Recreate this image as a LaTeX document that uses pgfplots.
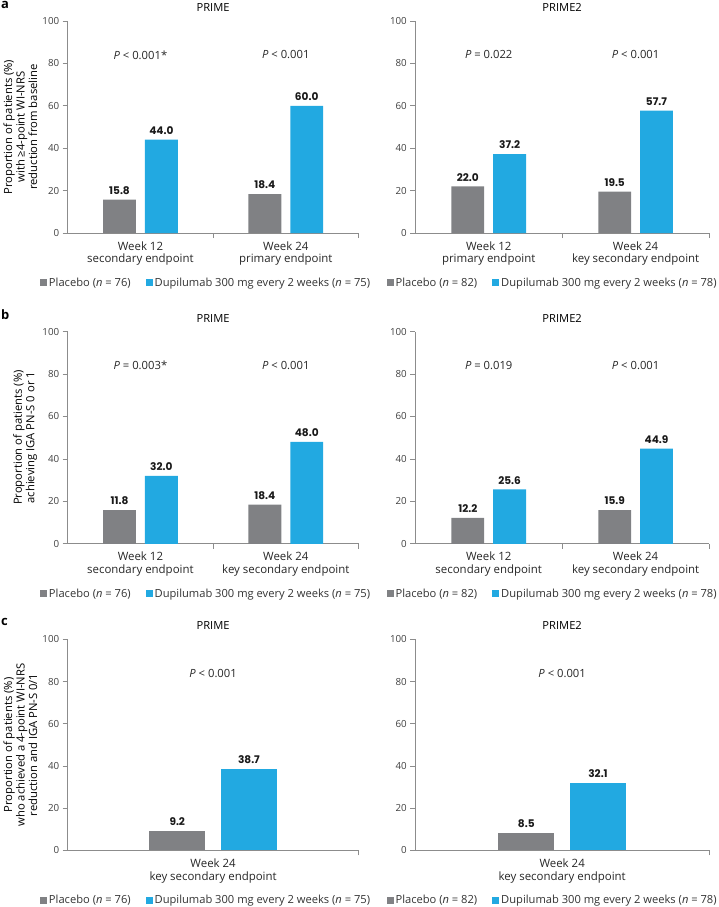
\documentclass[border=0pt]{standalone}
\usepackage{fontspec}
\setmainfont{Open Sans}
\newfontfamily\valfont{Poppins}
\usepackage{pgfplots}
\pgfplotsset{compat=1.18}
\definecolor{plac}{HTML}{808184}
\definecolor{dupi}{HTML}{22A9E1}
\definecolor{axgray}{HTML}{8C8C8C}
\tikzset{ptext/.style={font=\fontsize{11.3}{12}\selectfont, text=black!85, anchor=center}}
\pgfplotsset{
 panel/.style={
  scale only axis, height=213pt, anchor=south west,
  ymin=0, ymax=100, ytick={0,20,...,100},
  axis x line*=bottom, axis y line*=left,
  axis line style={axgray, line width=0.7pt, -},
  every tick/.style={axgray, line width=0.7pt},
  tick align=outside, major tick length=5pt,
  y tick label style={font=\fontsize{9.8}{10}\selectfont, text=black!75},
  /pgf/number format/assume math mode=true,
  title style={font=\fontsize{11.2}{12}\selectfont, at={(0.5,1)}, anchor=base, yshift=3.5pt},
  clip=false,
  xticklabels={},
  extra x tick style={major tick length=0pt, tick label style={font=\fontsize{11.5}{12.5}\selectfont, align=center, text=black!85, yshift=-5pt}},
  ylabel style={at={(axis description cs:-0.1045,0.5)}, anchor=south, align=center, inner sep=0pt, font=\fontsize{11.3}{12.5}\selectfont},
  legend style={draw=none, fill=none, inner sep=0pt, legend columns=2, font=\fontsize{11.2}{12}\selectfont, text=black!80, anchor=west, /tikz/every even column/.append style={column sep=13pt}},
  legend image code/.code={\fill[#1] (0pt,-3.5pt) rectangle (7pt,3.5pt);},
  nodes near coords, point meta=explicit symbolic,
  every node near coord/.append style={font=\valfont\bfseries\fontsize{10.6}{11}\selectfont, inner sep=0pt, anchor=south, yshift=5pt, text=black!90},
 },
 twocat/.style={xmin=-0.5, xmax=1.5, xtick={0.5,1.5}, extra x ticks={0,1}},
 onecat/.style={xmin=-1, xmax=1, xtick={1}, extra x ticks={0}},
 lpan/.style={width=292pt, legend style={at={(axis description cs:-0.0959,-0.2347)}}},
 rpan/.style={width=295pt, legend style={at={(axis description cs:-0.0983,-0.2347)}}},
 pbar/.style={ybar, fill=plac, draw=none, bar width=33pt, bar shift=-21pt, every node near coord/.append style={xshift=-21pt}},
 dbar/.style={ybar, fill=dupi, draw=none, bar width=33pt, bar shift=21pt, every node near coord/.append style={xshift=21pt}},
 pbarw/.style={ybar, fill=plac, draw=none, bar width=56pt, bar shift=-36pt, every node near coord/.append style={xshift=-36pt}},
 dbarw/.style={ybar, fill=dupi, draw=none, bar width=56pt, bar shift=36pt, every node near coord/.append style={xshift=36pt}},
}
\begin{document}
\begin{tikzpicture}
\path (0pt,0pt) rectangle (715pt,-907pt);
% ---------- a ----------
\node[anchor=base west, inner sep=0pt, font=\bfseries\fontsize{13}{13}\selectfont] at (1pt,-8.3pt) {a};
\begin{axis}[panel, twocat, lpan, at={(68pt,-234pt)}, title={PRIME},
  extra x tick labels={Week 12\\secondary endpoint, Week 24\\primary endpoint},
  ylabel={Proportion of patients (\%)\\with ≥4-point WI-NRS\\reduction from baseline}]
\addplot[pbar] coordinates {(0,15.8) [15.8] (1,18.4) [18.4]};
\addplot[dbar] coordinates {(0,44.0) [44.0] (1,60.0) [60.0]};
\node[ptext] at (axis cs:0,84) {\textit{P} < 0.001*};
\node[ptext] at (axis cs:1,84) {\textit{P} < 0.001};
\legend{Placebo (\textit{n} = 76), Dupilumab 300 mg every 2 weeks (\textit{n} = 75)}
\end{axis}
\begin{axis}[panel, twocat, rpan, at={(417pt,-234pt)}, title={PRIME2},
  extra x tick labels={Week 12\\primary endpoint, Week 24\\key secondary endpoint}]
\addplot[pbar] coordinates {(0,22.0) [22.0] (1,19.5) [19.5]};
\addplot[dbar] coordinates {(0,37.2) [37.2] (1,57.7) [57.7]};
\node[ptext] at (axis cs:0,84) {\textit{P} = 0.022};
\node[ptext] at (axis cs:1,84) {\textit{P} < 0.001};
\legend{Placebo (\textit{n} = 82), Dupilumab 300 mg every 2 weeks (\textit{n} = 78)}
\end{axis}
% ---------- b ----------
\node[anchor=base west, inner sep=0pt, font=\bfseries\fontsize{13}{13}\selectfont] at (1pt,-320.7pt) {b};
\begin{axis}[panel, twocat, lpan, at={(68pt,-546pt)}, title={PRIME},
  extra x tick labels={Week 12\\secondary endpoint, Week 24\\key secondary endpoint},
  ylabel={Proportion of patients (\%)\\achieving IGA PN-S 0 or 1}]
\addplot[pbar] coordinates {(0,15.8) [11.8] (1,18.4) [18.4]};
\addplot[dbar] coordinates {(0,32.0) [32.0] (1,48.0) [48.0]};
\node[ptext] at (axis cs:0,84) {\textit{P} = 0.003*};
\node[ptext] at (axis cs:1,84) {\textit{P} < 0.001};
\legend{Placebo (\textit{n} = 76), Dupilumab 300 mg every 2 weeks (\textit{n} = 75)}
\end{axis}
\begin{axis}[panel, twocat, rpan, at={(417pt,-546pt)}, title={PRIME2},
  extra x tick labels={Week 12\\secondary endpoint, Week 24\\key secondary endpoint}]
\addplot[pbar] coordinates {(0,12.2) [12.2] (1,15.9) [15.9]};
\addplot[dbar] coordinates {(0,25.6) [25.6] (1,44.9) [44.9]};
\node[ptext] at (axis cs:0,84) {\textit{P} = 0.019};
\node[ptext] at (axis cs:1,84) {\textit{P} < 0.001};
\legend{Placebo (\textit{n} = 82), Dupilumab 300 mg every 2 weeks (\textit{n} = 78)}
\end{axis}
% ---------- c ----------
\node[anchor=base west, inner sep=0pt, font=\bfseries\fontsize{13}{13}\selectfont] at (1pt,-628.3pt) {c};
\begin{axis}[panel, onecat, lpan, at={(68pt,-854pt)}, height=212pt, title={PRIME},
  extra x tick labels={Week 24\\key secondary endpoint},
  ylabel={Proportion of patients (\%)\\who achieved a 4-point WI-NRS\\reduction and IGA PN-S 0/1}]
\addplot[pbarw] coordinates {(0,9.2) [9.2]};
\addplot[dbarw] coordinates {(0,38.7) [38.7]};
\node[ptext] at (axis cs:0,84) {\textit{P} < 0.001};
\legend{Placebo (\textit{n} = 76), Dupilumab 300 mg every 2 weeks (\textit{n} = 75)}
\end{axis}
\begin{axis}[panel, onecat, rpan, at={(417pt,-854pt)}, height=212pt, title={PRIME2},
  extra x tick labels={Week 24\\key secondary endpoint}]
\addplot[pbarw] coordinates {(0,8.5) [8.5]};
\addplot[dbarw] coordinates {(0,32.1) [32.1]};
\node[ptext] at (axis cs:0,84) {\textit{P} < 0.001};
\legend{Placebo (\textit{n} = 82), Dupilumab 300 mg every 2 weeks (\textit{n} = 78)}
\end{axis}
\end{tikzpicture}
\end{document}
